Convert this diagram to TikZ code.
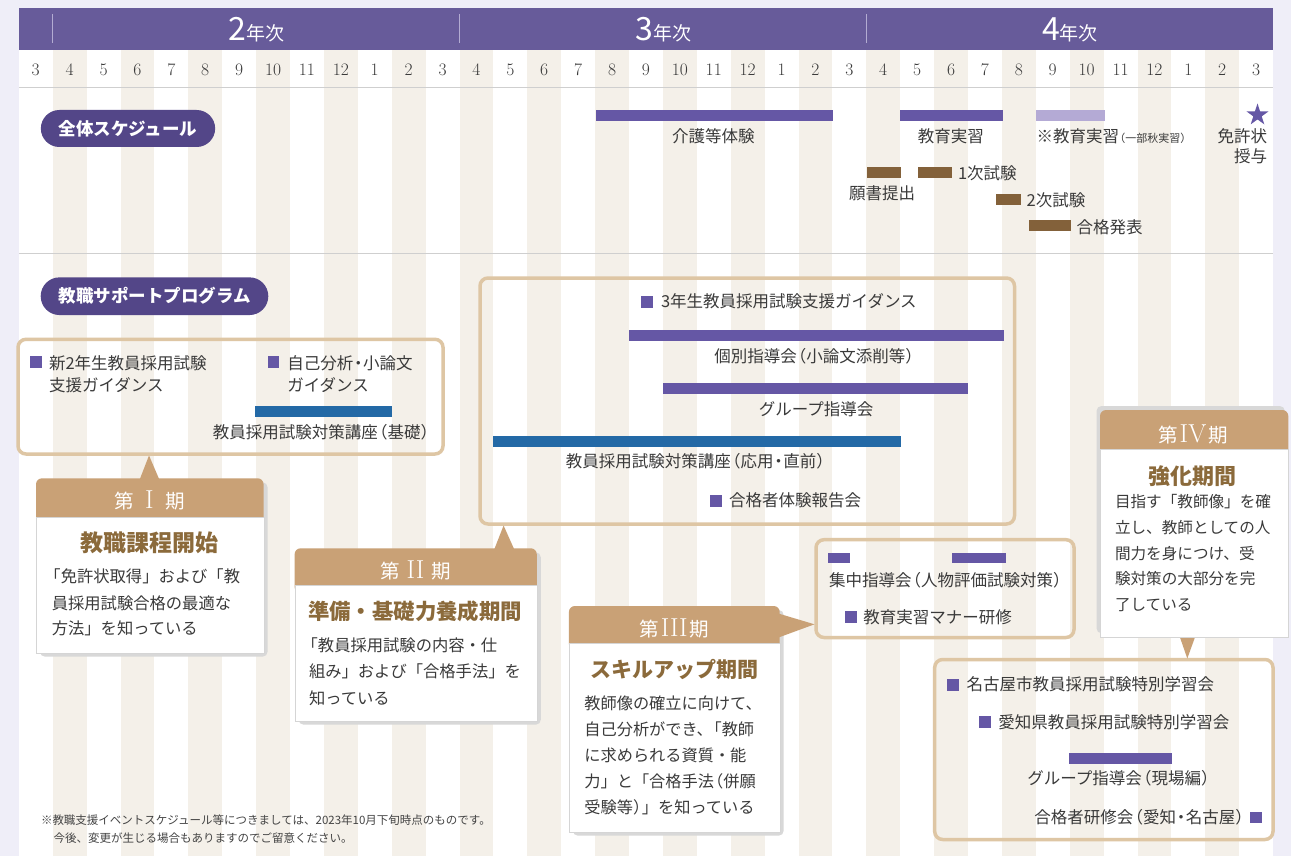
\documentclass[tikz,border=0pt]{standalone}
\usepackage{fontspec}
\newfontfamily\jp{Noto Sans CJK JP}
\usetikzlibrary{shapes.geometric}
\XeTeXinterchartokenstate=1
\XeTeXinterchartoks 1 1 = {\hskip0pt plus 1pt\relax}
\XeTeXinterchartoks 1 2 = {\hskip0pt plus 1pt\relax}
\XeTeXinterchartoks 1 3 = {\hskip0pt plus 1pt\relax}
\XeTeXinterchartoks 2 1 = {\hskip0pt plus 1pt\relax}
\XeTeXinterchartoks 2 2 = {\hskip0pt plus 1pt\relax}
\XeTeXinterchartoks 2 3 = {\hskip0pt plus 1pt\relax}
\XeTeXinterchartoks 3 1 = {\hskip0pt plus 1pt\relax}
\XeTeXinterchartoks 3 2 = {\hskip0pt plus 1pt\relax}
\XeTeXinterchartoks 3 3 = {\hskip0pt plus 1pt\relax}
\newcommand\jlp{\kern-0.42em（}
\newcommand\jrp{）\kern-0.42em}
\newcommand\jst{\kern-0.45em}
\newcommand\jkn{\kern-0.45em}
\newcommand\jdot{\kern-0.2em・\kern-0.2em}
\definecolor{lav}{HTML}{EFEEF8}
\definecolor{hdr}{HTML}{675B9A}
\definecolor{yrsep}{HTML}{B3ACD2}
\definecolor{stripe}{HTML}{F4F0E9}
\definecolor{pillc}{HTML}{534688}
\definecolor{barp}{HTML}{6557A5}
\definecolor{barl}{HTML}{B4AAD5}
\definecolor{barb}{HTML}{83613A}
\definecolor{barblue}{HTML}{2369A6}
\definecolor{boxtan}{HTML}{DEC6A4}
\definecolor{hdrtan}{HTML}{C9A176}
\definecolor{ttlc}{HTML}{8B6A3B}
\definecolor{txt}{HTML}{3A3A3A}
\definecolor{fntxt}{HTML}{444444}
\definecolor{sepc}{HTML}{CFCFCF}
\definecolor{shad}{HTML}{D8D8D8}
\definecolor{cardline}{HTML}{D5D5D5}
\tikzset{
 jpt/.style n args={3}{inner sep=0pt, outer sep=0pt, text=txt, font=\jp\fontsize{#1pt}{#1pt}\selectfont, text height=#2pt, text depth=#3pt},
 lbl/.style={jpt={16.5}{13.7}{1.2}},
 fnote/.style={jpt={11.5}{9.5}{0.8}, text=fntxt, anchor=west},
 mon/.style={inner sep=0pt, text=txt, font=\fontsize{17.5pt}{17.5pt}\selectfont},
 yr/.style={inner sep=0pt, text=white, font=\jp\fontsize{19pt}{19pt}\selectfont, anchor=base},
 pill/.style={jpt={17.5}{14.5}{1.2}, text=white, fill=pillc, font=\jp\bfseries\fontsize{17.5pt}{17.5pt}\selectfont},
 pbox/.style={draw=boxtan, line width=3.5pt, rounded corners=8pt, inner sep=0pt},
 sq/.style={fill=barp, inner sep=0pt, minimum size=11.7pt},
 cardbody/.style={fill=white, draw=cardline, line width=0.6pt, inner sep=0pt, anchor=north west},
 hdrtxt/.style={inner sep=0pt, text=white, font=\jp\fontsize{19.5pt}{19.5pt}\selectfont, anchor=base},
 ttl/.style n args={3}{jpt={#1}{#2}{#3}, text=ttlc, font=\jp\bfseries\fontsize{#1pt}{#1pt}\selectfont},
 ct1/.style={jpt={16.3}{13.5}{1.1}, anchor=west},
 ct2/.style={jpt={16.3}{13.5}{1.1}, anchor=west},
 ct3/.style={jpt={16.2}{13.4}{1.1}, anchor=west},
 ct4/.style={jpt={15.6}{12.9}{1.1}, anchor=west}
}
\begin{document}
\begin{tikzpicture}[x=1pt,y=-1pt]
\useasboundingbox (0,0) rectangle (1291,856);
\fill[lav] (0,0) rectangle (1291,856);
\fill[white] (18.8,8) rectangle (1273.1,856);
% month stripes
\foreach \i in {1,3,...,35} \fill[stripe] ({18.8+\i*33.9},50) rectangle ({52.7+\i*33.9},856);
% header bar
\fill[hdr] (18.8,8) rectangle (1273.1,50);
\foreach \xx in {52.7,459.5,866.3} \draw[yrsep, line width=1.2pt] (\xx,14) -- (\xx,43);
\node[yr] (y2) at (256.3,40.5) {{\fontsize{32pt}{32pt}\selectfont 2}年次};
\node[yr] (y3) at (663.7,40.5) {{\fontsize{32pt}{32pt}\selectfont 3}年次};
\node[yr] (y4) at (1070,40.5) {{\fontsize{32pt}{32pt}\selectfont 4}年次};
% months
\foreach \m [count=\k from 0] in {3,4,5,6,7,8,9,10,11,12,1,2,3,4,5,6,7,8,9,10,11,12,1,2,3,4,5,6,7,8,9,10,11,12,1,2,3}
  \node[mon] (mo\k) at ({18.8+(\k+0.5)*33.9},69.5) {\m};
\draw[sepc, line width=1.5pt] (18.8,87.5) -- (1273.1,87.5);
\draw[sepc, line width=1.5pt] (18.8,253.5) -- (1273.1,253.5);

% ===== overall schedule =====
\node[pill, minimum width=174.3pt, minimum height=37pt, rounded corners=18.5pt] (pl1) at (128,128.5) {全体スケジュール};
\fill[barp] (595.7,110) rectangle (832.7,121);
\node[lbl] (s1) at (713.3,136) {介護等体験};
\fill[barp] (900,110) rectangle (1002.7,121);
\node[lbl] (s2) at (950.8,136) {教育実習};
\fill[barl] (1035.7,110) rectangle (1105,121);
\node[lbl, anchor=west] (s3) at (1036.5,136) {※教育実習{\fontsize{11pt}{11pt}\selectfont\jlp 一部秋実習\jrp}};
\node[star, star points=5, star point ratio=2.6, fill=barp, minimum size=23pt, inner sep=0pt] (st) at (1257.5,115) {};
\node[lbl, anchor=east] (s4) at (1267,136.5) {免許状};
\node[lbl, anchor=east] (s5) at (1267,156) {授与};
\fill[barb] (866.7,167) rectangle (900.7,178);
\node[lbl] (s6) at (882,193) {願書提出};
\fill[barb] (917.7,167) rectangle (951.7,178);
\node[lbl, anchor=west] (s7) at (958,173) {1次試験};
\fill[barb] (995.7,194) rectangle (1020.7,204.5);
\node[lbl, anchor=west] (s8) at (1026.7,200) {2次試験};
\fill[barb] (1029,220) rectangle (1070.7,230.7);
\node[lbl, anchor=west] (s9) at (1076.7,227) {合格発表};

% ===== support program =====
\node[pill, minimum width=227.6pt, minimum height=37.7pt, rounded corners=18.8pt] (pl2) at (154.5,296.2) {教職サポートプログラム};

% box 1
\node[pbox, minimum width=425pt, minimum height=114.7pt] (b1) at (230.5,396.65) {};
\node[sq] (q1) at (35.8,361.8) {};
\node[lbl, anchor=west] (t1a) at (49,363) {新2年生教員採用試験};
\node[lbl, anchor=west] (t1b) at (49,385) {支援ガイダンス};
\node[sq] (q2) at (273.5,362) {};
\node[lbl, anchor=west] (t2a) at (287.3,363) {自己分析\jdot 小論文};
\node[lbl, anchor=west] (t2b) at (287.3,385) {ガイダンス};
\fill[barblue] (255.3,405.7) rectangle (391.7,416.7);
\node[lbl] (t3) at (321.5,432) {教員採用試験対策講座\jlp 基礎\jrp};

% box 2
\node[pbox, minimum width=534.5pt, minimum height=246pt] (b2) at (747.25,401) {};
\node[sq] (q3) at (646.8,301.8) {};
\node[lbl, anchor=west] (t4) at (661,301.7) {3年生教員採用試験支援ガイダンス};
\fill[barp] (629,330) rectangle (1004,340.7);
\node[lbl] (t5) at (814.6,356.7) {個別指導会\jlp 小論文添削等\jrp};
\fill[barp] (662.9,383.3) rectangle (967.5,394);
\node[lbl] (t6) at (816,409) {グループ指導会};
\fill[barblue] (492.5,436) rectangle (901,446.7);
\node[lbl] (t7) at (696,461.7) {教員採用試験対策講座\jlp 応用\jdot 直前\jrp};
\node[sq] (q4) at (715.9,500.8) {};
\node[lbl, anchor=west] (t8) at (729,500.7) {合格者体験報告会};

% box 3
\node[pbox, minimum width=258pt, minimum height=97.8pt] (b3) at (945,588.6) {};
\fill[barp] (828.2,553.3) rectangle (849.6,563.3);
\fill[barp] (951.9,553.3) rectangle (1005.6,563.3);
\node[lbl, anchor=west] (t9) at (829,580) {集中指導会\jlp 人物評価試験対策\jrp};
\node[sq] (q5) at (851,617.3) {};
\node[lbl, anchor=west] (t10) at (863.4,617) {教育実習マナー研修};

% box 4
\node[pbox, minimum width=338.3pt, minimum height=180pt] (b4) at (1103.85,749.5) {};
\node[sq] (q6) at (953.2,684.7) {};
\node[lbl, anchor=west] (t11) at (966.7,684.3) {名古屋市教員採用試験特別学習会};
\node[sq] (q7) at (985,722) {};
\node[lbl, anchor=west] (t12) at (998.3,722) {愛知県教員採用試験特別学習会};
\fill[barp] (1069,753.3) rectangle (1171.7,764);
\node[lbl] (t13) at (1119,778.3) {グループ指導会\jlp 現場編\jrp};
\node[lbl, anchor=east] (t14) at (1245,817.5) {合格者研修会\jlp 愛知\jdot 名古屋\jrp};
\node[sq] (q8) at (1255.8,817.5) {};

% ===== Phase I =====
\fill[shad, rounded corners=5pt] (40,482.3) rectangle (267.6,656.7);
\fill[hdrtan] (149,455.5) -- (139.5,480) -- (159.5,480) -- cycle;
\fill[hdrtan, rounded corners=6pt] (36,478.3) rectangle (263.6,525);
\node[cardbody, minimum width=227.6pt, minimum height=136pt] (p1) at (36,516.7) {};
\node[hdrtxt] (p1h) at (149.5,508.5) {\makebox[71pt][s]{第\hfil{\rmfamily\fontsize{26pt}{26pt}\selectfont I}\hfil 期}};
\node[ttl={23}{19.1}{1.6}] (p1t) at (149,543) {教職課程開始};
\node[ct1] (p1a) at (51.8,576.7) {\makebox[196pt][s]{\jst「免許状取得」および「教}};
\node[ct1] (p1b) at (51.8,603) {\makebox[196pt][s]{員採用試験合格の最適な}};
\node[ct1] (p1c) at (51.8,628) {方法」を知っている};

% ===== Phase II =====
\fill[shad, rounded corners=5pt] (298.6,552.3) rectangle (540.8,724.7);
\fill[hdrtan] (503.6,525.5) -- (494,550) -- (514.5,550) -- cycle;
\fill[hdrtan, rounded corners=6pt] (294.6,548.3) rectangle (536.8,593);
\node[cardbody, minimum width=242.2pt, minimum height=135.7pt] (p2) at (294.6,585) {};
\node[hdrtxt] (p2h) at (415.5,578) {\makebox[71pt][s]{第\hfil{\rmfamily\fontsize{26pt}{26pt}\selectfont II}\hfil 期}};
\node[ttl={21.4}{17.8}{1.5}] (p2t) at (415,611.7) {準備・基礎力養成期間};
\node[ct2] (p2a) at (309,645) {\makebox[213pt][s]{\jst「教員採用試験の内容・仕}};
\node[ct2] (p2b) at (309,671.7) {\makebox[213pt][s]{組み」および「合格手法」を}};
\node[ct2] (p2c) at (309,698.3) {知っている};

% ===== Phase III =====
\fill[shad, rounded corners=5pt] (572.9,610) rectangle (783.7,835.7);
\fill[hdrtan] (814.5,624.3) -- (772,611.6) -- (772,639.9) -- cycle;
\fill[hdrtan, rounded corners=6pt] (568.9,606) rectangle (779.7,650);
\node[cardbody, minimum width=210.8pt, minimum height=189pt] (p3) at (568.9,642.7) {};
\node[hdrtxt] (p3h) at (674.3,636) {\makebox[70pt][s]{第\hfil{\rmfamily\fontsize{26pt}{26pt}\selectfont III}\hfil 期}};
\node[ttl={21}{17.4}{1.5}] (p3t) at (674,670) {スキルアップ期間};
\node[ct3] (p3a) at (584.4,703.3) {\makebox[181pt][s]{教師像の確立に向けて、}};
\node[ct3] (p3b) at (584.4,729.3) {\makebox[181pt][s]{自己分析ができ、\jkn「教師}};
\node[ct3] (p3c) at (584.4,755.7) {\makebox[181pt][s]{に求められる資質・能}};
\node[ct3] (p3d) at (584.4,781.7) {\makebox[181pt][s]{力」と「合格手法\jlp 併願}};
\node[ct3] (p3e) at (584.4,807.3) {受験等）\jkn」を知っている};

% ===== Phase IV =====
\fill[shad, rounded corners=5pt] (1096.5,406) rectangle (1284.8,633.3);
\fill[hdrtan] (1187.3,658.5) -- (1177.4,630) -- (1197.6,630) -- cycle;
\fill[hdrtan, rounded corners=6pt] (1100,410) rectangle (1288.3,457);
\node[cardbody, minimum width=188.3pt, minimum height=188pt] (p4) at (1100,449.3) {};
\node[hdrtxt] (p4h) at (1193,442.5) {\makebox[70pt][s]{第\hfil{\rmfamily\fontsize{26pt}{26pt}\selectfont IV}\hfil 期}};
\node[ttl={22}{18.3}{1.5}] (p4t) at (1192.5,476) {強化期間};
\node[ct4] (p4a) at (1115,501.7) {\makebox[157pt][s]{目指す「教師像」を確}};
\node[ct4] (p4b) at (1115,527.7) {\makebox[157pt][s]{立し、教師としての人}};
\node[ct4] (p4c) at (1115,553.3) {\makebox[157pt][s]{間力を身につけ、受}};
\node[ct4] (p4d) at (1115,579) {\makebox[157pt][s]{験対策の大部分を完}};
\node[ct4] (p4e) at (1115,605) {了している};

% footnote
\node[fnote] (f1) at (41,820) {※教職支援イベントスケジュール等につきましては、2023年10月下旬時点のものです。};
\node[fnote] (f2) at (53.6,838.3) {今後、変更が生じる場合もありますのでご留意ください。};
\end{tikzpicture}
\end{document}
